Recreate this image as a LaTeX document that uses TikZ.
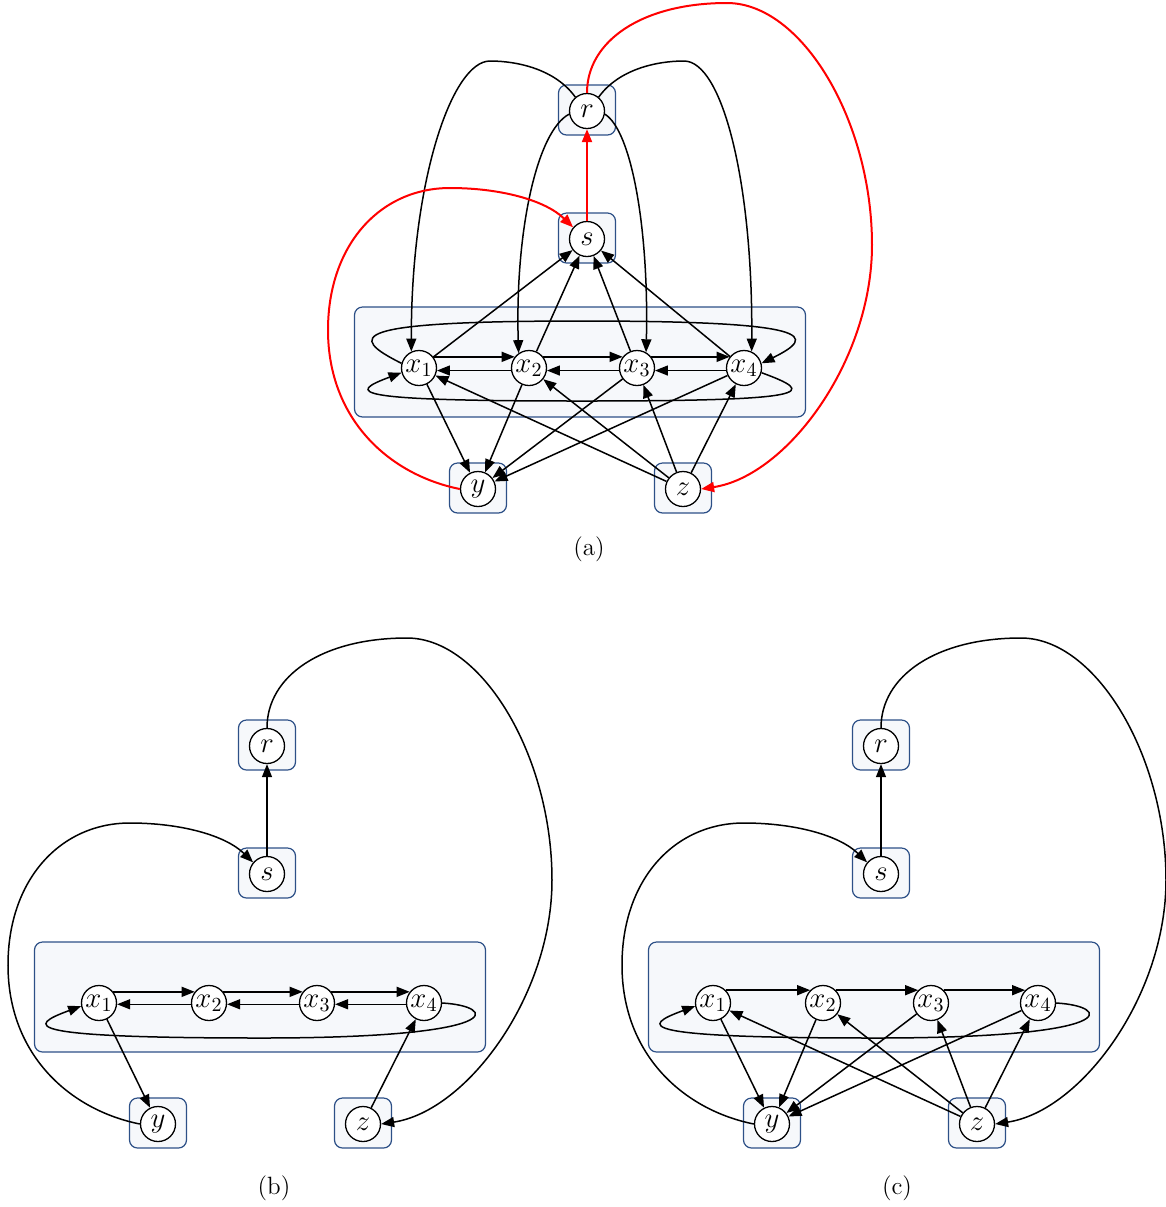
\documentclass[tikz,border=0pt]{standalone}
\usetikzlibrary{arrows.meta}
\definecolor{boxline}{RGB}{45,80,135}
\definecolor{boxfill}{RGB}{246,248,251}
\definecolor{hot}{RGB}{255,0,0}
\tikzset{
  var/.style={circle, draw, fill=white, line width=0.65pt, minimum size=17.5pt,
    inner sep=0pt, font=\fontsize{14}{16}\selectfont},
  plate/.style={draw=boxline, fill=boxfill, rounded corners=4pt, line width=0.6pt,
    minimum width=28.5pt, minimum height=25pt, inner sep=0pt},
  bigplate/.style={plate, minimum width=225.5pt, minimum height=55pt},
  edge/.style={line width=0.75pt, -{Triangle[length=6.5pt,width=5pt]}},
  hotedge/.style={edge, color=hot, line width=1pt},
  caption/.style={font=\fontsize{12.5}{15}\selectfont}
}
% plates and variables of one panel, positions relative to r
\newcommand\panelnodes[1]{%
  \node[plate] (#1-rbox) at (0,-1) {};
  \node[plate] (#1-sbox) at (0,127) {};
  \node[bigplate] (#1-xbox) at (-7,251) {};
  \node[plate] (#1-ybox) at (-109,377) {};
  \node[plate] (#1-zbox) at (96,377) {};
  \node[var] (#1-r) at (0,0) {$r$};
  \node[var] (#1-s) at (0,128) {$s$};
  \node[var] (#1-x1) at (-168,257) {$x_1$};
  \node[var] (#1-x2) at (-58,257) {$x_2$};
  \node[var] (#1-x3) at (50,257) {$x_3$};
  \node[var] (#1-x4) at (157,257) {$x_4$};
  \node[var] (#1-y) at (-109,378) {$y$};
  \node[var] (#1-z) at (96,378) {$z$};
}
% the chain y -> s -> r -> z shared by every panel
\newcommand\outerchain[2]{%
  \draw[#2] (#1-s) -- (#1-r);
  \draw[#2] (#1-y.west) .. controls (-197,364) and (-259,309) .. (-259,219)
     .. controls (-259,134) and (-207,77) .. (-137,77)
     .. controls (-87,77) and (-42,89) .. (#1-s.140);
  \draw[#2] (#1-r.north) .. controls (0,-70) and (55,-108) .. (140,-108)
     .. controls (215,-108) and (285,10) .. (285,134)
     .. controls (285,250) and (200,365) .. (#1-z.east);
}
% loop from x4 back to x1 below the row
\newcommand\lowerloop[1]{%
  \draw[edge] (#1-x4.east) .. controls (230,260) and (245,292) .. (-5,292)
     .. controls (-250,292) and (-240,280) .. (#1-x1.190);
}
\begin{document}
\begin{tikzpicture}[x=0.5pt, y=-0.5pt]
\useasboundingbox (0,0) rectangle (1166,1207);

% ---------------- panel (a) ----------------
\begin{scope}[shift={(587,111)}]
  \panelnodes{a}
  \draw[edge] (a-r.130) .. controls (-32,-42) and (-70,-50) .. (-97,-50)
     .. controls (-135,-50) and (-176,70) .. (a-x1.115);
  \draw[edge] (a-r.50) .. controls (32,-42) and (70,-50) .. (97,-50)
     .. controls (135,-50) and (166,70) .. (a-x4.65);
  \draw[edge] (a-r.190) .. controls (-50,20) and (-72,120) .. (a-x2.125);
  \draw[edge] (a-r.-10) .. controls (45,20) and (62,120) .. (a-x3.60);
  \outerchain{a}{hotedge}
  \foreach \i in {1,2,3,4} {
    \draw[edge] (a-x\i) -- (a-s);
    \draw[edge] (a-x\i) -- (a-y);
    \draw[edge] (a-z) -- (a-x\i);
  }
  \draw[edge] (a-x1.38) -- (a-x2.142);
  \draw[edge] (a-x2.38) -- (a-x3.142);
  \draw[edge] (a-x3.38) -- (a-x4.142);
  \draw[edge] (a-x2.188) -- (a-x1.-8);
  \draw[edge] (a-x3.188) -- (a-x2.-8);
  \draw[edge] (a-x4.188) -- (a-x3.-8);
  \draw[edge] (a-x1.165) .. controls (-240,225) and (-240,210) .. (-5,210)
     .. controls (230,210) and (230,225) .. (a-x4.15);
  \draw[edge] (a-x4.-15) .. controls (230,282) and (230,290) .. (-5,290)
     .. controls (-240,290) and (-240,282) .. (a-x1.195);
\end{scope}
\node[caption] (capa) at (589,549) {(a)};

% ---------------- panel (b) ----------------
\begin{scope}[shift={(267,746)}]
  \panelnodes{b}
  \outerchain{b}{edge}
  \draw[edge] (b-x1.38) -- (b-x2.142);
  \draw[edge] (b-x2.38) -- (b-x3.142);
  \draw[edge] (b-x3.38) -- (b-x4.142);
  \draw[edge] (b-x2.184) -- (b-x1.-4);
  \draw[edge] (b-x3.184) -- (b-x2.-4);
  \draw[edge] (b-x4.184) -- (b-x3.-4);
  \lowerloop{b}
  \draw[edge] (b-x1) -- (b-y);
  \draw[edge] (b-z) -- (b-x4);
\end{scope}
\node[caption] (capb) at (274,1188) {(b)};

% ---------------- panel (c) ----------------
\begin{scope}[shift={(881,746)}]
  \panelnodes{c}
  \outerchain{c}{edge}
  \draw[edge] (c-x1.45) -- (c-x2.135);
  \draw[edge] (c-x2.45) -- (c-x3.135);
  \draw[edge] (c-x3.45) -- (c-x4.135);
  \lowerloop{c}
  \foreach \i in {1,2,3,4} {
    \draw[edge] (c-x\i) -- (c-y);
    \draw[edge] (c-z) -- (c-x\i);
  }
\end{scope}
\node[caption] (capc) at (897,1188) {(c)};
\end{tikzpicture}
\end{document}
